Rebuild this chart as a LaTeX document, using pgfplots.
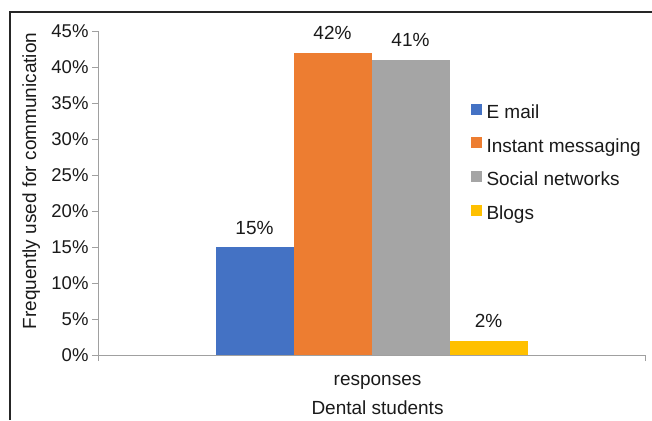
\documentclass[border=0pt]{standalone}
\usepackage{fontspec}
\setmainfont{Liberation Sans}
\usepackage{pgfplots}
\pgfplotsset{compat=1.18}
\definecolor{cblue}{HTML}{4472C4}
\definecolor{corange}{HTML}{ED7D31}
\definecolor{cgray}{HTML}{A5A5A5}
\definecolor{cyellow}{HTML}{FFC000}
\definecolor{axisgray}{HTML}{A0A0A0}
\definecolor{textc}{HTML}{1A1A1A}
\begin{document}
\begin{tikzpicture}
\path[use as bounding box] (0,0) rectangle (652pt,420pt);
\draw[color=black!85, line width=1.2pt] (10pt,0) -- (10pt,408pt) -- (652pt,408pt);
\begin{axis}[
  at={(98pt,65pt)}, anchor=south west,
  scale only axis, width=547pt, height=324pt,
  clip=false,
  ybar=0pt, bar width=78pt,
  xmin=-1, xmax=1, ymin=0, ymax=45,
  xtick={-1,1}, xticklabels={},
  ytick={0,5,...,45},
  /pgf/number format/assume math mode=true,
  yticklabel={\pgfmathprintnumber{\tick}\%},
  axis lines*=left,
  axis line style={draw=axisgray, line width=1pt},
  tick align=outside, major tick length=6pt,
  tick style={draw=axisgray, line width=1pt},
  ticklabel style={font=\fontsize{18.5}{20}\selectfont, text=textc},
  nodes near coords={\pgfmathprintnumber{\pgfplotspointmeta}\%},
  every node near coord/.append style={font=\fontsize{19}{21}\selectfont, text=textc, inner sep=0pt, anchor=south, yshift=12.5pt},
  legend cell align=left,
  legend style={draw=none, fill=none, at={(rel axis cs:0.681,0.776)}, anchor=north west,
    inner sep=0pt, outer sep=0pt, row sep=14.7pt, column sep=5pt,
    font=\fontsize{19}{21}\selectfont, text=textc,
    nodes={inner sep=0pt, text height=13pt, text depth=4pt}},
  legend image code/.code={\fill[#1] (0pt,-0.5pt) rectangle (11pt,10.5pt);},
]
\addplot[fill=cblue, draw=none] coordinates {(0,15)};
\addplot[fill=corange, draw=none] coordinates {(0,42)};
\addplot[fill=cgray, draw=none] coordinates {(0,41)};
\addplot[fill=cyellow, draw=none] coordinates {(0,2)};
\legend{E mail, Instant messaging, Social networks, Blogs}
\node[rotate=90, font=\fontsize{19}{21}\selectfont, text=textc] at (axis description cs:-0.122,0.537) {Frequently used for communication};
\node[anchor=base, font=\fontsize{19}{21}\selectfont, text=textc] at ([yshift=-30pt]axis description cs:0.511,0) {responses};
\node[anchor=base, font=\fontsize{19}{21}\selectfont, text=textc] at ([yshift=-59.3pt]axis description cs:0.511,0) {Dental students};
\end{axis}
\end{tikzpicture}
\end{document}
